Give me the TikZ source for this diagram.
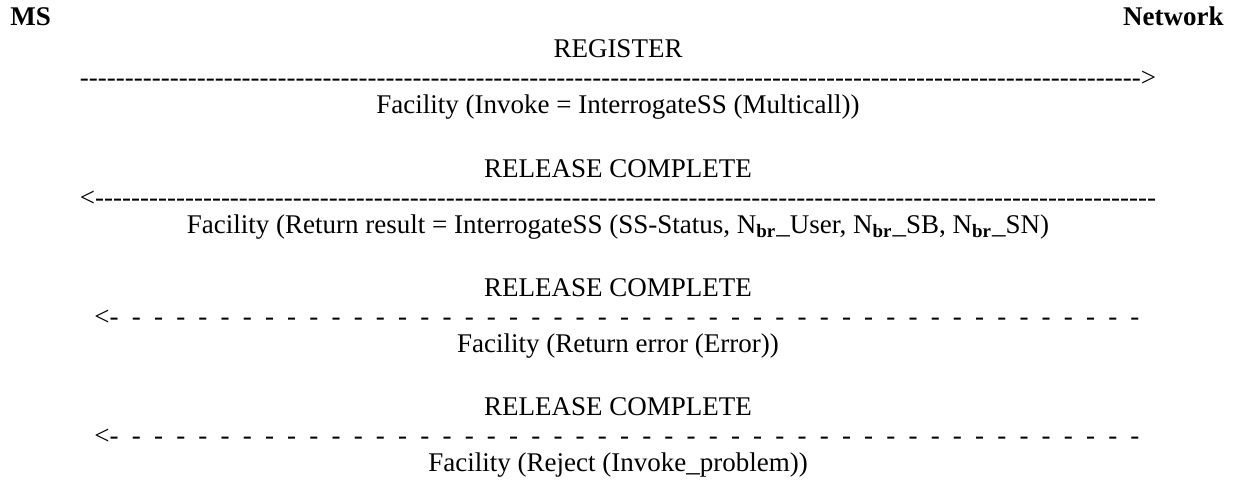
\documentclass[tikz,border=0pt]{standalone}
\usepackage{fontspec}
\setmainfont{Liberation Serif}
\newcommand\hyrun[1]{\foreach\i in {1,...,#1}{-\kern0pt}}
\newcommand\spacedrun[1]{\foreach\i in {1,...,#1}{\hspace{6.6pt}-\kern0pt}}
\newcommand\Nbr{N\textsubscript{\textbf{br}}\_}
\begin{document}
\begin{tikzpicture}[x=0.5pt,y=-0.5pt,
  msg/.style={anchor=base,inner sep=0pt,font=\fontsize{13.5pt}{15pt}\selectfont},
  party/.style={inner sep=0pt,font=\fontsize{13.5pt}{15pt}\selectfont\bfseries}]
\useasboundingbox (0,0) rectangle (1238,484);
\node[party,anchor=base west] (ms) at (10,25) {MS};
\node[party,anchor=base east] (net) at (1224,25) {Network};
% REGISTER
\node[msg] (m1) at (618,57) {REGISTER};
\node[msg] (a1) at (618,86) {\hyrun{118}>};
\node[msg] (f1) at (618,113) {Facility (Invoke = InterrogateSS (Multicall))};
% RELEASE COMPLETE (result)
\node[msg] (m2) at (618,177) {RELEASE COMPLETE};
\node[msg] (a2) at (618,206) {<\hyrun{118}};
\node[msg] (f2) at (618,233) {Facility (Return result = InterrogateSS (SS-Status, \Nbr User, \Nbr SB, \Nbr SN)};
% RELEASE COMPLETE (error)
\node[msg] (m3) at (618,296) {RELEASE COMPLETE};
\node[msg] (a3) at (617,325) {<-\kern0pt\spacedrun{46}};
\node[msg] (f3) at (618,352) {Facility (Return error (Error))};
% RELEASE COMPLETE (reject)
\node[msg] (m4) at (618,415) {RELEASE COMPLETE};
\node[msg] (a4) at (617,444) {<-\kern0pt\spacedrun{46}};
\node[msg] (f4) at (618,471) {Facility (Reject (Invoke\_problem))};
\end{tikzpicture}
\end{document}
